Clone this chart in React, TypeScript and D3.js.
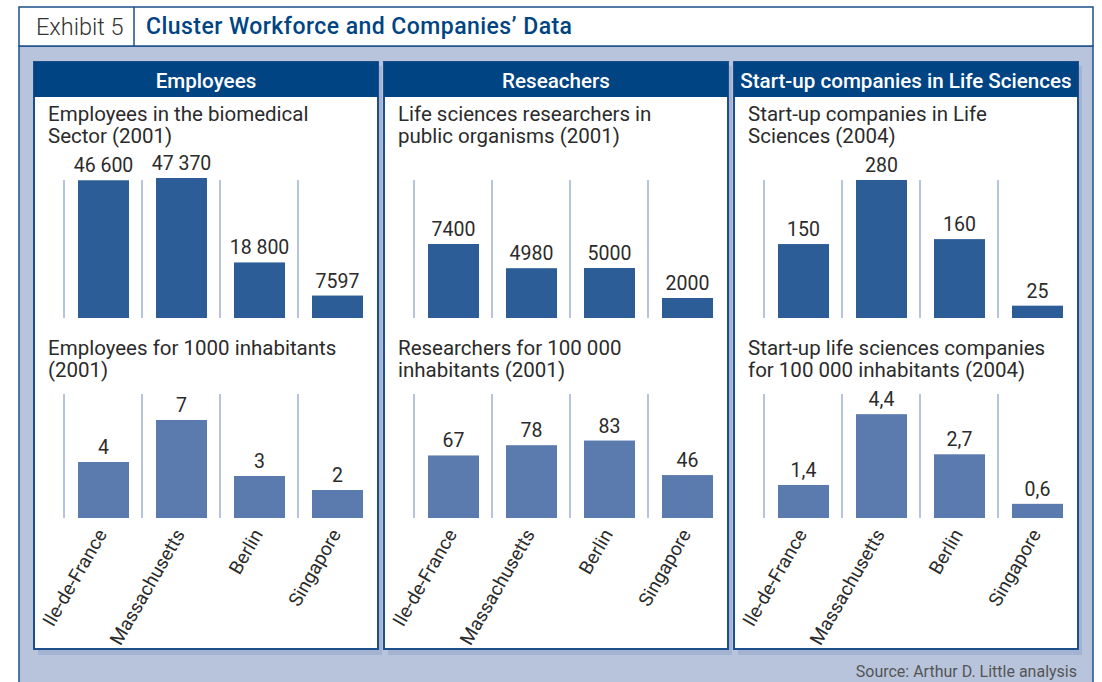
import React from "react";
import * as d3 from "d3";

const cities = ["Ile-de-France", "Massachusetts", "Berlin", "Singapore"];

const employees = [46600, 47370, 18800, 7597];
const researchers = [7400, 4980, 5000, 2000];
const startups = [150, 280, 160, 25];

const employeesPer1000 = [4, 7, 3, 2];
const researchersPer100k = [67, 78, 83, 46];
const startupsPer100k = [1.4, 4.4, 2.7, 0.6];

const panelTitles = ["Employees", "Reseachers", "Start-up companies in Life Sciences"];
const topTitles = [
  ["Employees in the biomedical", "Sector (2001)"],
  ["Life sciences researchers in", "public organisms (2001)"],
  ["Start-up companies in Life", "Sciences (2004)"],
];
const bottomTitles = [
  ["Employees for 1000 inhabitants", "(2001)"],
  ["Researchers for 100 000", "inhabitants (2001)"],
  ["Start-up life sciences companies", "for 100 000 inhabitants (2004)"],
];
// top of each value axis (the bars in the source aren't on a shared scale)
const topMax = [47370, 14000, 284];
const bottomMax = [9, 135, 5.34];

const FONT = "Roboto, 'DejaVu Sans', sans-serif";
const DARK = "#004483";
const TEXT = "#2b2b2b";

// 46 600 style, decimals with comma
const fmt = (v: number) => {
  if (!Number.isInteger(v)) return String(v).replace(".", ",");
  if (v >= 10000) return d3.format(",")(v).replace(/,/g, " ");
  return String(v);
};

type ChartProps = {
  x0: number;
  values: number[];
  max: number;
  yTop: number;
  yBottom: number;
  color: string;
};

function Bars({ x0, values, max, yTop, yBottom, color }: ChartProps) {
  const x = d3.scaleBand<string>().domain(cities).range([x0 + 30, x0 + 342]).padding(0);
  const y = d3.scaleLinear().domain([0, max]).range([yBottom, yTop]);
  const barW = 51;
  return (
    <g>
      {cities.map((c, i) => {
        const bx = x(c)!;
        const v = values[i];
        return (
          <g key={c}>
            <line x1={bx} x2={bx} y1={yTop + 2} y2={yBottom} stroke="#9fb0d4" strokeWidth={1.5} />
            <rect x={bx + 14} y={y(v)} width={barW} height={yBottom - y(v)} fill={color} />
            <text
              x={bx + 14 + barW / 2}
              y={y(v) - 8}
              textAnchor="middle"
              fontSize={19.5}
              fill={TEXT}
            >
              {fmt(v)}
            </text>
          </g>
        );
      })}
    </g>
  );
}

function Panel({ idx }: { idx: number }) {
  const x0 = 34 + idx * 350;
  const w = 344;
  const xb = d3.scaleBand<string>().domain(cities).range([x0 + 30, x0 + 342]);
  return (
    <g>
      {/* shadow */}
      <rect x={x0 + 4} y={66} width={w} height={589} fill="#a5b3d3" />
      <rect x={x0} y={62} width={w} height={587} fill="#fff" stroke="#1d4f8c" strokeWidth={2} />
      <rect x={x0} y={62} width={w} height={35} fill={DARK} />
      <text x={x0 + w / 2} y={88} textAnchor="middle" fill="#fff" fontSize={20.6} fontWeight={500}>
        {panelTitles[idx]}
      </text>
      {topTitles[idx].map((t, k) => (
        <text key={t} x={x0 + 14} y={121 + k * 22} fontSize={20.5} fill={TEXT}>
          {t}
        </text>
      ))}
      {bottomTitles[idx].map((t, k) => (
        <text key={t} x={x0 + 14} y={355 + k * 22} fontSize={20.5} fill={TEXT}>
          {t}
        </text>
      ))}
      <Bars
        x0={x0}
        values={[employees, researchers, startups][idx]}
        max={topMax[idx]}
        yTop={178}
        yBottom={318}
        color="#2c5d97"
      />
      <Bars
        x0={x0}
        values={[employeesPer1000, researchersPer100k, startupsPer100k][idx]}
        max={bottomMax[idx]}
        yTop={392}
        yBottom={518}
        color="#5b7aad"
      />
      {cities.map((c) => {
        const cx = xb(c)! + 14 + 25.5;
        return (
          <text
            key={c}
            transform={`translate(${cx + 4},${534}) rotate(-60)`}
            textAnchor="end"
            fontSize={19}
            fill={TEXT}
          >
            {c}
          </text>
        );
      })}
    </g>
  );
}

export default function App() {
  return (
    <svg
      width={1102}
      height={682}
      style={{ position: "absolute", left: 0, top: 0, fontFamily: FONT }}
    >
      <rect x={0} y={0} width={1102} height={682} fill="#fff" />
      <rect x={19} y={46} width={1074} height={640} fill="#b8c4dc" stroke="#1d4f8c" strokeWidth={1.5} />
      <rect x={19} y={7} width={1074} height={39} fill="#fff" stroke="#1d4f8c" strokeWidth={1.5} />
      <line x1={134} x2={134} y1={7} y2={46} stroke="#1d4f8c" strokeWidth={1.5} />
      <text x={36} y={35} fontSize={23.5} fill="#333" fontWeight={300}>
        Exhibit 5
      </text>
      <text x={146} y={34} fontSize={23} fill={DARK} fontWeight={500} letterSpacing={0.45}>
        Cluster Workforce and Companies’ Data
      </text>
      {[0, 1, 2].map((i) => (
        <Panel key={i} idx={i} />
      ))}
      <text x={1077} y={677} textAnchor="end" fontSize={16} fill="#555">
        Source: Arthur D. Little analysis
      </text>
    </svg>
  );
}
